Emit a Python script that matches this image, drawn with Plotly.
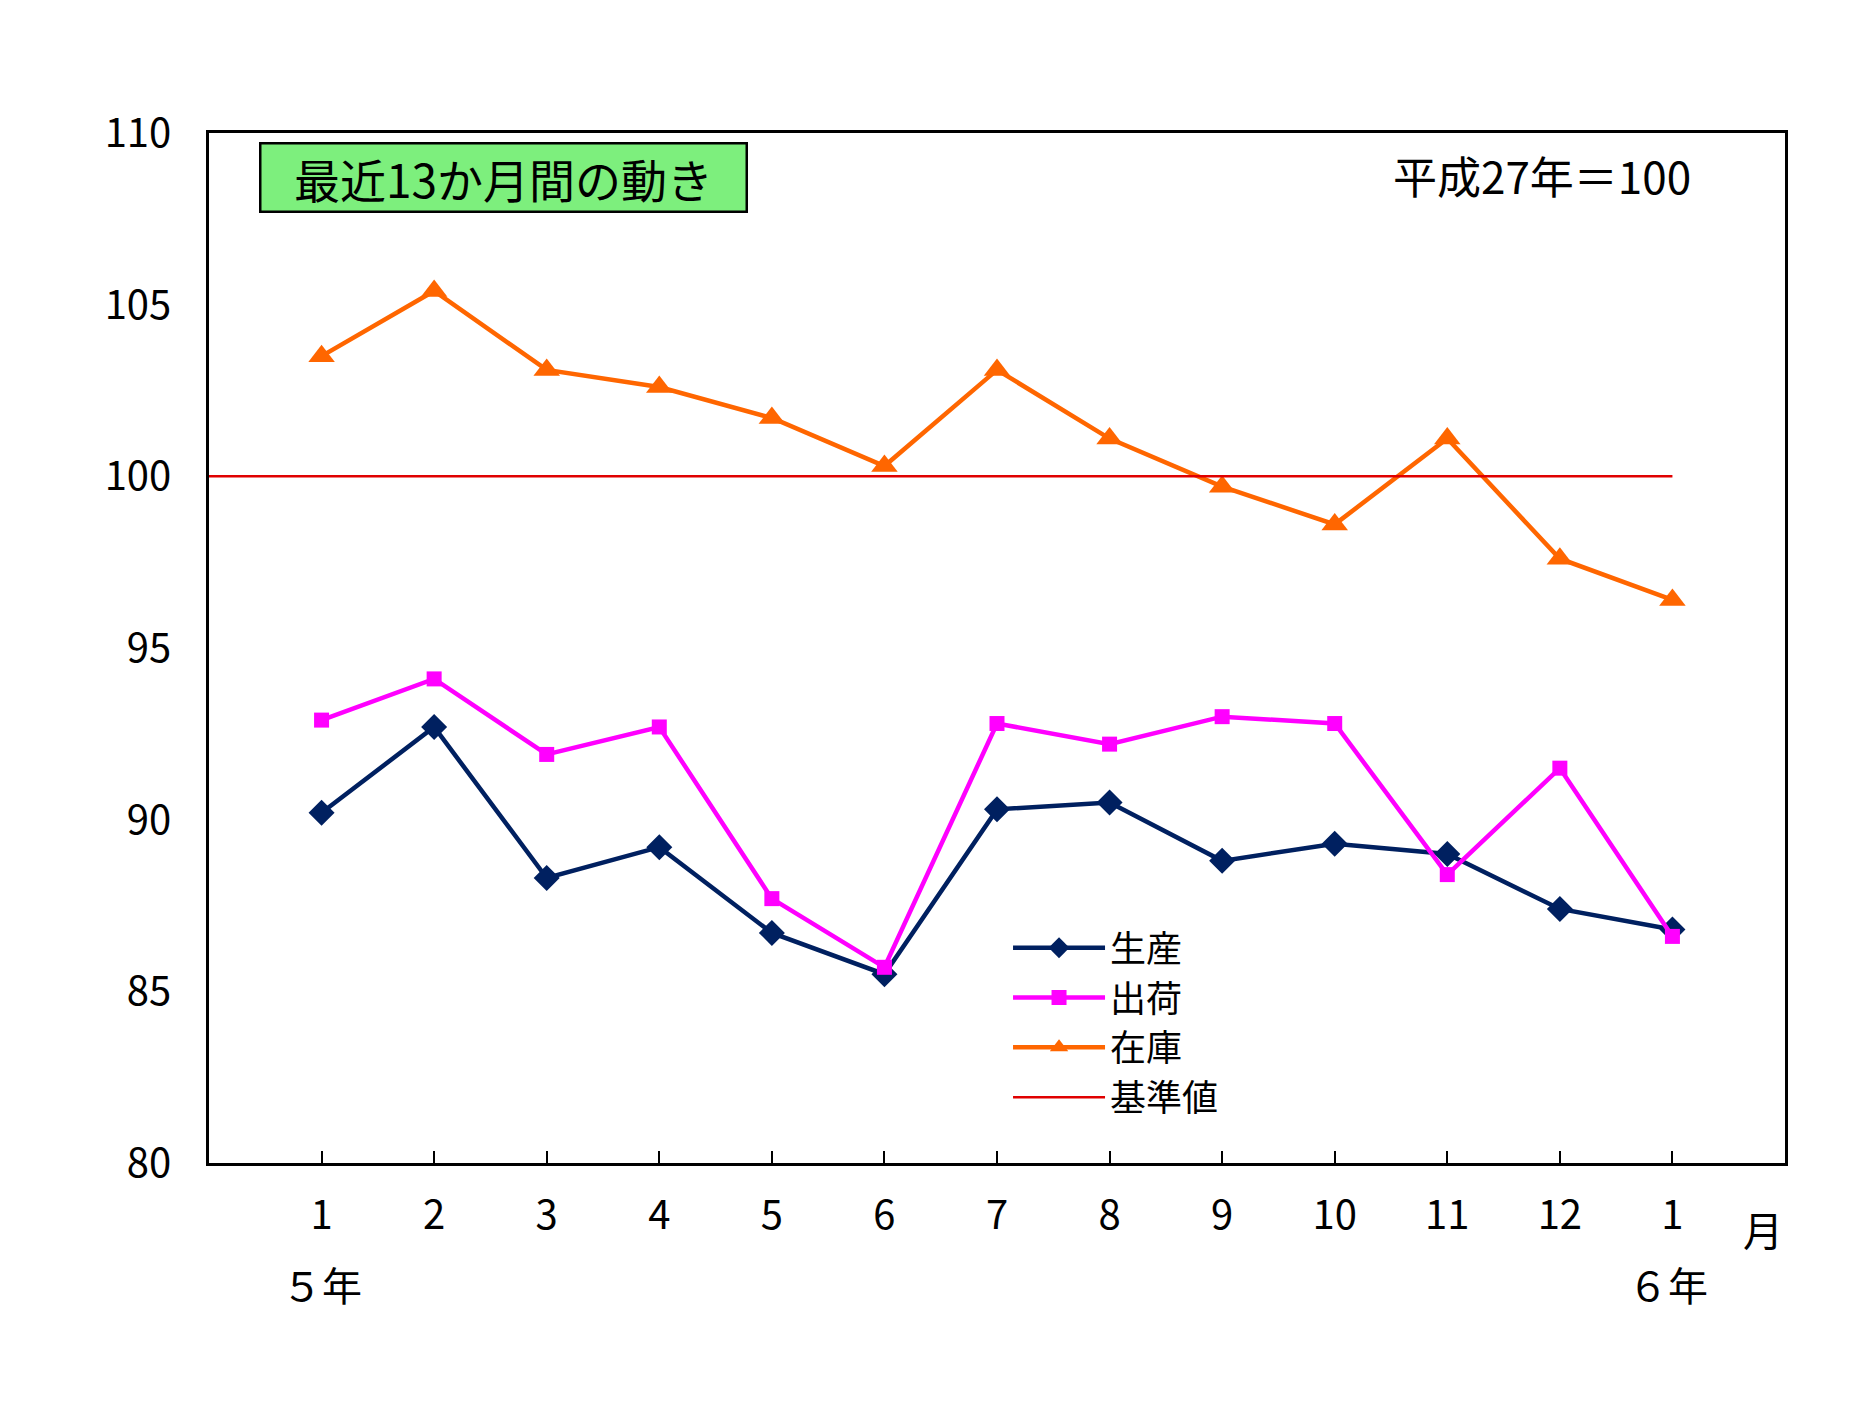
import plotly.graph_objects as go

months = [1, 2, 3, 4, 5, 6, 7, 8, 9, 10, 11, 12, 13]
month_labels = ["1", "2", "3", "4", "5", "6", "7", "8", "9", "10", "11", "12", "1"]
production = [90.2, 92.7, 88.3, 89.2, 86.7, 85.5, 90.3, 90.5, 88.8, 89.3, 89.0, 87.4, 86.8]
shipments = [92.9, 94.1, 91.9, 92.7, 87.7, 85.7, 92.8, 92.2, 93.0, 92.8, 88.4, 91.5, 86.6]
inventory = [103.5, 105.4, 103.1, 102.6, 101.7, 100.3, 103.1, 101.1, 99.7, 98.6, 101.1, 97.6, 96.4]
base_x = [0, 13]
base_y = [100, 100]
y_ticks = [80, 85, 90, 95, 100, 105, 110]

FONT = "Noto Sans CJK JP"

fig = go.Figure()
fig.add_trace(go.Scatter(x=months, y=production, name="生産", mode="lines+markers",
                         line=dict(color="#002060", width=4.5),
                         marker=dict(symbol="diamond", size=20, color="#002060")))
fig.add_trace(go.Scatter(x=months, y=shipments, name="出荷", mode="lines+markers",
                         line=dict(color="#ff00ff", width=4.5),
                         marker=dict(symbol="square", size=15, color="#ff00ff")))
fig.add_trace(go.Scatter(x=months, y=inventory, name="在庫", mode="lines+markers",
                         line=dict(color="#ff6600", width=4.5),
                         marker=dict(symbol="triangle-up", size=23, color="#ff6600")))
fig.add_trace(go.Scatter(x=base_x, y=base_y, name="基準値", mode="lines",
                         line=dict(color="#e00000", width=2.5)))

fig.update_layout(
    width=1851, height=1405,
    margin=dict(l=201, r=74, t=125, b=250),
    paper_bgcolor="white", plot_bgcolor="white",
    font=dict(family=FONT, size=40, color="black"),
    showlegend=True,
    legend=dict(x=0.507, y=0.238, xanchor="left", yanchor="top",
                font=dict(family=FONT, size=36, color="black"),
                bgcolor="rgba(0,0,0,0)", tracegroupgap=0, itemwidth=92),
    xaxis=dict(range=[0, 14], tickmode="array", tickvals=months, ticktext=month_labels,
               showgrid=False, zeroline=False, showline=True, mirror=True,
               linecolor="black", linewidth=2.5, ticks="inside", ticklen=12,
               tickwidth=2, tickcolor="black", ticklabelstandoff=15,
               tickfont=dict(family=FONT, size=40)),
    yaxis=dict(range=[80, 110], tickmode="array", tickvals=y_ticks,
               showgrid=False, zeroline=False, showline=True, mirror=True,
               linecolor="black", linewidth=2.5, ticks="", ticklabelstandoff=27,
               tickfont=dict(family=FONT, size=40)),
    annotations=[
        dict(text="最近13か月間の動き", xref="paper", yref="paper", x=0.187, y=0.957,
             xanchor="center", yanchor="middle", showarrow=False,
             font=dict(family=FONT, size=46, color="black"),
             bgcolor="#7def7d", bordercolor="black", borderwidth=2.5,
             width=482, height=64),
        dict(text="平成27年＝100", xref="paper", yref="paper", x=0.846, y=0.9595,
             xanchor="center", yanchor="middle", showarrow=False,
             font=dict(family=FONT, size=44, color="black")),
        dict(text="５年", xref="paper", yref="paper", x=0.0715, y=-0.1175,
             xanchor="center", yanchor="middle", showarrow=False,
             font=dict(family=FONT, size=40, color="black")),
        dict(text="６年", xref="paper", yref="paper", x=0.926, y=-0.1175,
             xanchor="center", yanchor="middle", showarrow=False,
             font=dict(family=FONT, size=40, color="black")),
        dict(text="月", xref="paper", yref="paper", x=0.986, y=-0.0645,
             xanchor="center", yanchor="middle", showarrow=False,
             font=dict(family=FONT, size=40, color="black")),
    ],
)

fig.write_html("out.html")
